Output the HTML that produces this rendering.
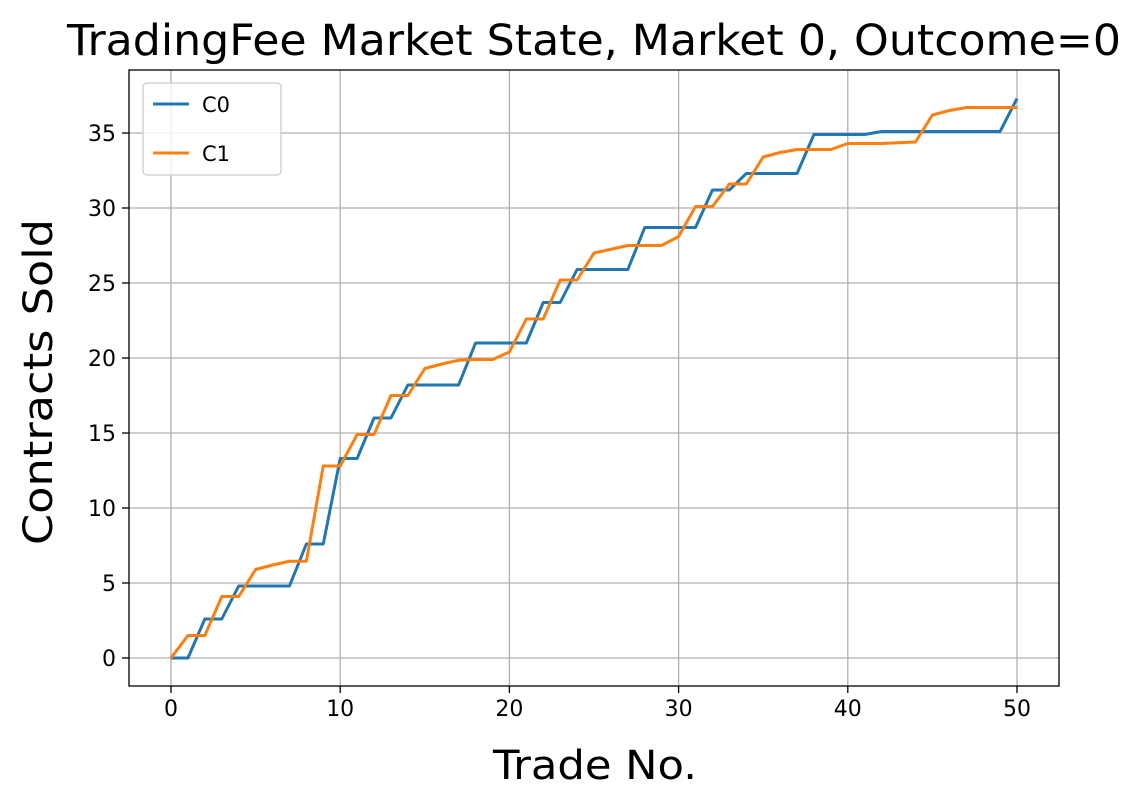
<!DOCTYPE html>
<html><head><meta charset="utf-8"><style>
body{margin:0;background:#fff;}
svg{display:block;font-family:"DejaVu Sans","Liberation Sans",sans-serif;}
</style></head><body>
<svg id="chart" width="1143" height="808">
<rect width="1143" height="808" fill="#fff"/>
<g id="grid"></g>
<g id="ticks"></g>
<g id="series"></g>
<rect x="129" y="70" width="930" height="616" fill="none" stroke="#000" stroke-width="1.3"/>
<text x="594" y="55" font-size="43" text-anchor="middle" textLength="1054" lengthAdjust="spacingAndGlyphs">TradingFee Market State, Market 0, Outcome=0</text>
<text x="595" y="779" font-size="40" text-anchor="middle" textLength="204" lengthAdjust="spacingAndGlyphs">Trade No.</text>
<text transform="translate(52,382) rotate(-90)" font-size="40" text-anchor="middle" textLength="326" lengthAdjust="spacingAndGlyphs">Contracts Sold</text>
<g>
<rect x="143" y="83" width="138" height="92" rx="4" fill="#fff" fill-opacity="0.8" stroke="#ccc" stroke-width="1.3"/>
<line x1="153" y1="104" x2="189" y2="104" stroke="#1f77b4" stroke-width="3"/>
<text x="202" y="112" font-size="21">C0</text>
<line x1="153" y1="153" x2="189" y2="153" stroke="#ff7f0e" stroke-width="3"/>
<text x="202" y="161" font-size="21">C1</text>
</g>
</svg>
<script>
const xTicks=[0,10,20,30,40,50];
const yTicks=[0,5,10,15,20,25,30,35];
const c0=[0,0,2.6,2.6,4.8,4.8,4.8,4.8,7.6,7.6,13.3,13.3,16.0,16.0,18.2,18.2,18.2,18.2,21.0,21.0,21.0,21.0,23.7,23.7,25.9,25.9,25.9,25.9,28.7,28.7,28.7,28.7,31.2,31.2,32.3,32.3,32.3,32.3,34.9,34.9,34.9,34.9,35.1,35.1,35.1,35.1,35.1,35.1,35.1,35.1,37.3];
const c1=[0,1.5,1.5,4.1,4.1,5.9,6.2,6.45,6.45,12.8,12.8,14.9,14.9,17.5,17.5,19.3,19.6,19.85,19.9,19.9,20.4,22.6,22.6,25.2,25.2,27.0,27.25,27.5,27.5,27.5,28.1,30.1,30.1,31.6,31.6,33.4,33.7,33.9,33.9,33.9,34.3,34.3,34.3,34.35,34.4,36.2,36.5,36.7,36.7,36.7,36.7];
const NS="http://www.w3.org/2000/svg";
function X(v){return 171+v*(1017-171)/50;}
function Y(v){return 658-v*15;}
const grid=document.getElementById('grid'),ticks=document.getElementById('ticks'),series=document.getElementById('series');
function mk(tag,attrs,parent){const e=document.createElementNS(NS,tag);for(const k in attrs)e.setAttribute(k,attrs[k]);parent.appendChild(e);return e;}
xTicks.forEach(t=>{
 const g=mk('line',{x1:X(t),x2:X(t),y1:70,y2:686,stroke:'#b0b0b0','stroke-width':1.3},grid);
 
 
 const tk=mk('line',{x1:X(t),x2:X(t),y1:686,y2:693,stroke:'#000','stroke-width':1.3},ticks);
 
 
 const tx=mk('text',{x:X(t),y:716,'font-size':22,'text-anchor':'middle'},ticks);
 tx.textContent=t;
 
 
});
yTicks.forEach(t=>{
 const g=mk('line',{x1:129,x2:1059,y1:Y(t),y2:Y(t),stroke:'#b0b0b0','stroke-width':1.3},grid);
 
 
 const tk=mk('line',{x1:122,x2:129,y1:Y(t),y2:Y(t),stroke:'#000','stroke-width':1.3},ticks);
 
 
 const tx=mk('text',{x:116,y:Y(t)+8,'font-size':22,'text-anchor':'end'},ticks);
 tx.textContent=t;
 
 
});
function line(arr,color,name){
 const p=mk('polyline',{points:arr.map((v,i)=>X(i)+','+Y(v)).join(' '),fill:'none',stroke:color,'stroke-width':3,'stroke-linejoin':'round'},series);
 
 
}
line(c0,'#1f77b4','series-c0');
line(c1,'#ff7f0e','series-c1');
</script>
</body></html>
